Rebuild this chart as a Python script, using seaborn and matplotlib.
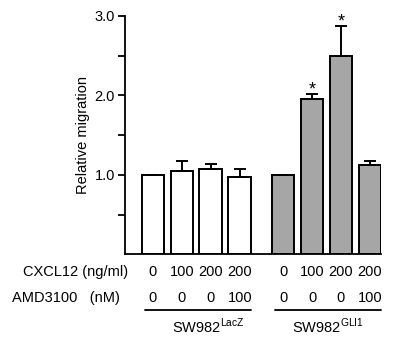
import numpy as np
import pandas as pd
import matplotlib
matplotlib.use("Agg")
import matplotlib.pyplot as plt
import seaborn as sns

# data
cells = ["LacZ"] * 4 + ["GLI1"] * 4
cxcl12 = ["0", "100", "200", "200", "0", "100", "200", "200"]
amd3100 = ["0", "0", "0", "100", "0", "0", "0", "100"]
migration = [1.0, 1.05, 1.08, 0.975, 1.0, 1.95, 2.5, 1.12]
err_up = [0.0, 0.12, 0.06, 0.105, 0.0, 0.07, 0.37, 0.06]
signif = ["", "", "", "", "", "*", "*", ""]

sns.set_style("ticks", {"text.color": "black", "axes.labelcolor": "black",
                        "xtick.color": "black", "ytick.color": "black",
                        "axes.edgecolor": "black"})
plt.rcParams["font.family"] = ["Liberation Sans", "DejaVu Sans"]
plt.rcParams["mathtext.fontset"] = "custom"
plt.rcParams["mathtext.rm"] = "Liberation Sans"

# bar positions: one unit per bar, half a unit gap between the two cell lines
grp = [0 if c == "LacZ" else 1 for c in cells]
pos = [i + 0.5 * g for i, g in enumerate(grp)]
df = pd.DataFrame({"pos": pos, "cells": cells, "migration": migration})

fig = plt.figure(figsize=(3.95, 3.37), dpi=100)
ax = fig.add_axes([0.316, 0.245, 0.649, 0.708])

sns.barplot(data=df, x="pos", y="migration", hue="cells", native_scale=True,
            dodge=False, width=0.78, palette={"LacZ": "white", "GLI1": "#a6a6a6"},
            edgecolor="black", linewidth=1.4, errorbar=None, legend=False, ax=ax)

ax.errorbar(pos, migration, yerr=[np.zeros(len(err_up)), err_up], fmt="none",
            ecolor="black", elinewidth=1.4, capsize=4, capthick=1.4)

for x, m, e, s in zip(pos, migration, err_up, signif):
    if s:
        ax.text(x, m + e - 0.06, s, ha="center", va="bottom", fontsize=13)

ax.set_xlim(-0.97, 7.89)
ax.set_ylim(0, 3)
ax.set_yticks([1, 2, 3])
ax.set_yticklabels(["1.0", "2.0", "3.0"])
ax.set_yticks([0.5, 1.5, 2.5], minor=True)
ax.tick_params(axis="y", which="both", length=5, width=1.3, labelsize=10.5, pad=2,
               color="black", labelcolor="black")
ax.set_xticks([])
ax.set_xlabel("")
ax.set_ylabel("Relative migration", fontsize=10.5, color="black")
ax.yaxis.set_label_coords(-0.135, 0.5)
sns.despine(ax=ax)
for sp in ["left", "bottom"]:
    ax.spines[sp].set_linewidth(1.3)
    ax.spines[sp].set_color("black")

tr = ax.get_xaxis_transform()
for x, c, a in zip(pos, cxcl12, amd3100):
    ax.text(x, -0.072, c, transform=tr, ha="center", va="center", fontsize=10.5)
    ax.text(x, -0.183, a, transform=tr, ha="center", va="center", fontsize=10.5)
fig.text(0.324, 1 - 271.7 / 337, "CXCL12 (ng/ml)", ha="right", va="center", fontsize=10.5)
fig.text(0.304, 1 - 298.3 / 337, "AMD3100   (nM)", ha="right", va="center", fontsize=10.5)

labels = {0: r"SW982$^{\mathrm{LacZ}}$", 1: r"SW982$^{\mathrm{GLI1}}$"}
shift = {0: 0.35, 1: 0.0}
for g in (0, 1):
    xs = [p for p, gg in zip(pos, grp) if gg == g]
    ax.plot([xs[0] - 0.28, xs[-1] + 0.38], [-0.232, -0.232], transform=tr,
            color="black", lw=1.3, clip_on=False)
    mid = (xs[0] - 0.28 + xs[-1] + 0.38) / 2 + shift[g]
    ax.text(mid, -0.30, labels[g], transform=tr, ha="center", va="center", fontsize=10.5)

fig.savefig("out.png", dpi=100)
